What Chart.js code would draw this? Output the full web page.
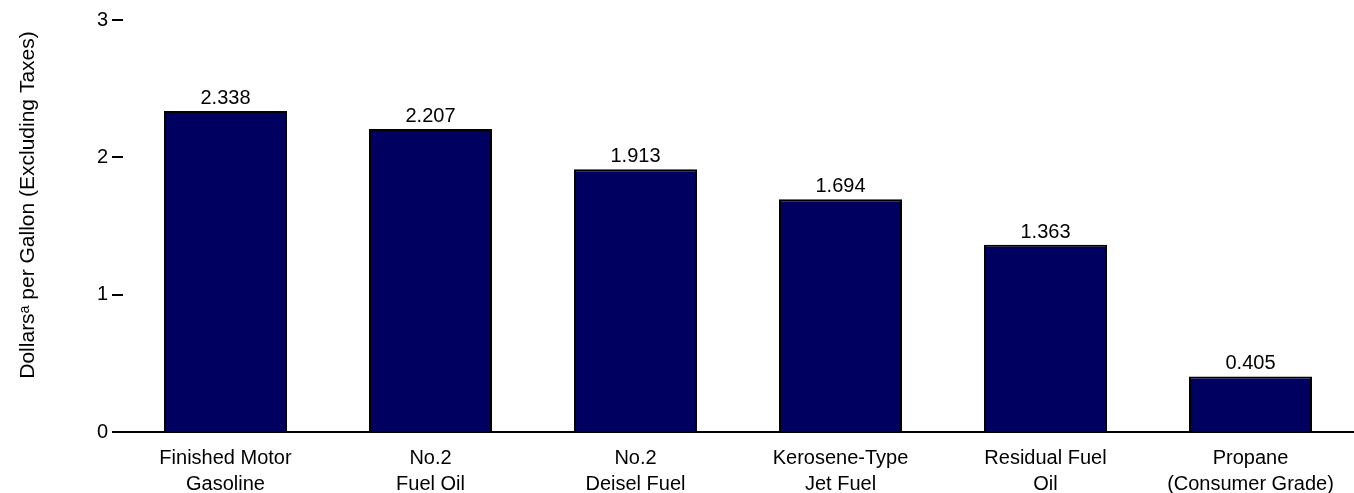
<!DOCTYPE html>
<html>
<head>
<meta charset="utf-8">
<script src="https://cdn.jsdelivr.net/npm/chart.js@4"></script>
<style>
  body { margin: 0; background: #fff; }
  canvas { display: block; }
</style>
</head>
<body>
<canvas id="grafica" width="1354" height="493"></canvas>
<script>
// categories, values, ticks
var categorias = [
    ['Finished Motor', 'Gasoline'],
    ['No.2', 'Fuel Oil'],
    ['No.2', 'Deisel Fuel'],
    ['Kerosene-Type', 'Jet Fuel'],
    ['Residual Fuel', 'Oil'],
    ['Propane', '(Consumer Grade)']
];
var precios = [2.338, 2.207, 1.913, 1.694, 1.363, 0.405];
var ticksY = [0, 1, 2, 3];
var tituloY = 'Dollarsᵃ per Gallon (Excluding Taxes)';

var fuente = "'Liberation Sans', Arial, sans-serif";

// labels on top of the bars + y title
var etiquetas = {
    id: 'etiquetas',
    afterDatasetsDraw: function(chart) {
        var ctx = chart.ctx;
        var meta = chart.getDatasetMeta(0);
        ctx.save();
        ctx.font = '20px ' + fuente;
        ctx.fillStyle = '#000';
        ctx.textAlign = 'center';
        ctx.textBaseline = 'alphabetic';
        meta.data.forEach(function(bar, i) {
            ctx.fillText(precios[i].toFixed(3), bar.x, bar.y - 7);
        });
        // titulo eje y
        ctx.font = '21px ' + fuente;
        ctx.textBaseline = 'middle';
        ctx.translate(28, 205);
        ctx.rotate(-Math.PI / 2);
        ctx.fillText(tituloY, 0, 0);
        ctx.restore();
    }
};

var ctx = document.getElementById("grafica").getContext("2d");
var myChart = new Chart(ctx, {
    type: 'bar',
    data: {
        labels: categorias,
        datasets: [{
            label: "",
            backgroundColor: "rgb(0, 0, 96)",
            borderColor: "#000",
            borderWidth: 2,
            borderSkipped: 'bottom',
            barPercentage: 0.6,
            categoryPercentage: 1,
            data: precios
        }]
    },
    options: {
        responsive: false,
        animation: false,
        layout: { padding: { top: 20, right: 1, bottom: 0, left: 0 } },
        plugins: {
            legend: { display: false },
            tooltip: { enabled: false }
        },
        scales: {
            x: {
                afterFit: function(s) { s.height = 61; },
                grid: { display: false, drawTicks: false },
                border: { display: true, color: '#000', width: 2 },
                ticks: { color: '#000', font: { family: fuente, size: 20, lineHeight: 1.28 }, padding: 14, maxRotation: 0 }
            },
            y: {
                min: 0,
                max: 3,
                afterBuildTicks: function(s) { s.ticks = ticksY.map(function(v) { return { value: v }; }); },
                afterFit: function(s) { s.width = 123; },
                grid: { drawOnChartArea: false, drawTicks: true, tickLength: 11, color: '#000', lineWidth: 2 },
                border: { display: false },
                ticks: { color: '#000', font: { family: fuente, size: 20 }, padding: 4 }
            }
        }
    },
    plugins: [etiquetas]
});
</script>
</body>
</html>
